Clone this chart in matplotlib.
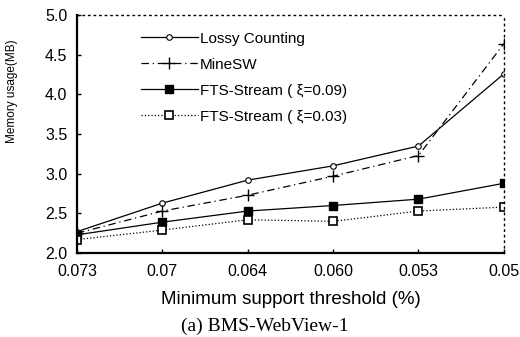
import matplotlib
matplotlib.use("Agg")
import matplotlib.pyplot as plt

thresholds = ["0.073", "0.07", "0.064", "0.060", "0.053", "0.05"]
lossy_counting = [2.27, 2.63, 2.92, 3.10, 3.35, 4.26]
minesw = [2.25, 2.53, 2.73, 2.97, 3.23, 4.64]
fts_009 = [2.23, 2.39, 2.53, 2.60, 2.68, 2.88]
fts_003 = [2.17, 2.29, 2.42, 2.40, 2.53, 2.58]

plt.rcParams['font.family'] = ['Liberation Sans', 'DejaVu Sans']

fig = plt.figure(figsize=(5.2, 3.37), dpi=100)
ax = fig.add_axes([0.148, 0.249, 0.821, 0.706])

x = list(range(len(thresholds)))
ax.plot(x, lossy_counting, color='black', lw=0.9, marker='o', ms=4,
        mfc='white', mew=0.8, label='Lossy Counting')
ax.plot(x, minesw, color='black', lw=0.9, dashes=(6, 3, 1, 3), marker='+',
        ms=8, mew=1.0, label='MineSW')
ax.plot(x, fts_009, color='black', lw=0.9, marker='s', ms=6,
        mfc='black', label='FTS-Stream ( \u03be=0.09)')
ax.plot(x, fts_003, color='black', lw=0.9, ls=':', marker='s', ms=6,
        mfc='white', mew=1.2, label='FTS-Stream ( \u03be=0.03)')

ax.set_xlim(0, len(thresholds) - 1)
ax.set_ylim(2.0, 5.0)
ax.set_xticks(x)
ax.set_xticklabels(thresholds)
ax.set_yticks([2.0, 2.5, 3.0, 3.5, 4.0, 4.5, 5.0])
ax.yaxis.set_major_formatter(matplotlib.ticker.FormatStrFormatter('%.1f'))
ax.tick_params(direction='in', length=3, width=1, labelsize=11.5)
ax.tick_params(axis='x', pad=8)
ax.tick_params(axis='y', pad=7)

for side in ['top', 'right']:
    ax.spines[side].set_linestyle((0, (1, 3)))
    ax.spines[side].set_linewidth(1.0)
for side in ['left', 'bottom']:
    ax.spines[side].set_linewidth(1.6)

ax.set_xlabel('Minimum support threshold (%)', fontsize=13.5)
ax.xaxis.set_label_coords(0.5, -0.16)
ax.set_ylabel('Memory usage(MB)', fontsize=8.5)
ax.yaxis.set_label_coords(-0.137, 0.68)

ax.legend(loc='upper left', bbox_to_anchor=(0.125, 0.975), frameon=False,
          fontsize=11, handlelength=3.7, handletextpad=0.15, labelspacing=0.78,
          borderpad=0.2)

fig.text(0.51, 0.018, '(a) BMS-WebView-1', ha='center', fontsize=14,
         family=['Liberation Serif', 'DejaVu Serif'])

fig.savefig('out.png', dpi=100)
